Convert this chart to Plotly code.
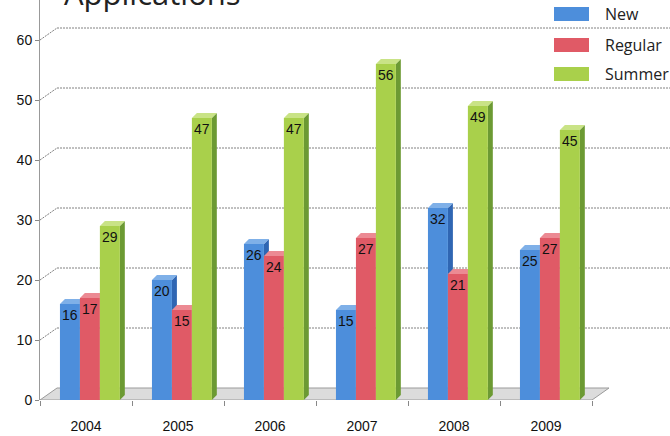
import plotly.graph_objects as go

years = ["2004", "2005", "2006", "2007", "2008", "2009"]
series_names = ["New", "Regular", "Summer"]
new_vals = [16, 20, 26, 15, 32, 25]
regular_vals = [17, 15, 24, 27, 21, 27]
summer_vals = [29, 47, 47, 56, 49, 45]
y_ticks = [0, 10, 20, 30, 40, 50, 60]

front_colors = ["#4d8edb", "#e05a66", "#a9d04b"]
side_colors = ["#2f66b3", "#b03c4a", "#6c9a33"]
top_colors = ["#7fb0e8", "#ec8a93", "#c9e386"]

bar_w = 0.217
offsets = [-0.283, -0.066, 0.151]
dx, dy = 0.054, 0.83          # bar depth in data units
wdx, wdy = 0.185, 2.0         # wall/floor depth in data units

fig = go.Figure()
all_vals = [new_vals, regular_vals, summer_vals]
for name, vals, off, col in zip(series_names, all_vals, offsets, front_colors):
    fig.add_trace(go.Bar(
        x=years, y=vals, name=name, offset=off, width=bar_w,
        marker=dict(color=col, line=dict(width=0)),
        text=[str(v) for v in vals], textposition="inside",
        insidetextanchor="end", textangle=0, constraintext="none",
        textfont=dict(family="Liberation Sans, Arial", size=14, color="#111"),
        showlegend=False,
    ))

shapes = []
# floor
shapes.append(dict(type="path", xref="x", yref="y", layer="below",
                   path=f"M -0.5,0 L 5.5,0 L {5.5+wdx},{wdy} L {-0.5+wdx},{wdy} Z",
                   fillcolor="#dcdcdc", line=dict(color="#9a9a9a", width=1)))
# back-wall gridlines
for v in y_ticks[1:]:
    shapes.append(dict(type="line", xref="x", yref="y", layer="below",
                       x0=-0.5, y0=v, x1=-0.5 + wdx, y1=v + wdy,
                       line=dict(color="#808080", width=1, dash="2px,1px")))
    shapes.append(dict(type="line", xref="x", yref="y", layer="below",
                       x0=-0.5 + wdx, y0=v + wdy, x1=7.0, y1=v + wdy,
                       line=dict(color="#808080", width=1, dash="2px,1px")))
# bar side faces then top faces
for k, vals in enumerate(all_vals):
    for i, v in enumerate(vals):
        x1 = i + offsets[k] + bar_w
        shapes.append(dict(type="path", xref="x", yref="y", layer="below",
                           path=f"M {x1},0 L {x1},{v} L {x1+dx},{v+dy} L {x1+dx},{dy} Z",
                           fillcolor=side_colors[k], line=dict(width=0)))
for k, vals in enumerate(all_vals):
    for i, v in enumerate(vals):
        x0 = i + offsets[k]
        x1 = x0 + bar_w
        shapes.append(dict(type="path", xref="x", yref="y", layer="below",
                           path=f"M {x0},{v} L {x1},{v} L {x1+dx},{v+dy} L {x0+dx},{v+dy} Z",
                           fillcolor=top_colors[k], line=dict(width=0)))

# legend (custom, larger swatches)
plot_w, plot_h = 630.0, 400.0
shapes.append(dict(type="rect", xref="paper", yref="paper", layer="below",
                   x0=(548 - 40) / plot_w, x1=1.0, y0=1 - 86 / plot_h, y1=1.0,
                   fillcolor="white", line=dict(width=0)))
annotations = []
row_centers = [14, 45, 74]
for name, col, yc in zip(series_names, front_colors, row_centers):
    shapes.append(dict(type="rect", xref="paper", yref="paper",
                       x0=(554 - 40) / plot_w, x1=(589 - 40) / plot_w,
                       y0=1 - (yc + 7) / plot_h, y1=1 - (yc - 7) / plot_h,
                       fillcolor=col, line=dict(width=0)))
    annotations.append(dict(xref="paper", yref="paper", x=(603 - 40) / plot_w,
                            y=1 - yc / plot_h, xanchor="left", yanchor="middle",
                            text=name, showarrow=False,
                            font=dict(family="Open Sans", size=16, color="#222")))

annotations.append(dict(xref="paper", yref="paper", x=(62 - 40) / plot_w,
                        y=1 - 16 / plot_h, xanchor="left", yanchor="bottom",
                        text="Applications", showarrow=False,
                        font=dict(family="Open Sans", size=31, color="#222")))

fig.update_layout(
    width=670, height=436,
    margin=dict(l=40, r=0, t=0, b=36),
    paper_bgcolor="white", plot_bgcolor="white",
    barmode="group",
    shapes=shapes, annotations=annotations,
    xaxis=dict(type="category", categoryorder="array", categoryarray=years,
               range=[-0.5, -0.5 + 630 / 92], tickson="boundaries",
               ticks="outside", ticklen=5, tickcolor="#888", showline=False,
               showgrid=False, zeroline=False, ticklabelstandoff=16,
               tickfont=dict(family="Liberation Sans, Arial", size=14, color="#111")),
    yaxis=dict(range=[0, 400 / 6], tickvals=y_ticks, ticks="outside", ticklen=4,
               tickcolor="#888", showline=True, linecolor="#999", linewidth=1,
               showgrid=False, zeroline=False,
               tickfont=dict(family="Liberation Sans, Arial", size=14, color="#111")),
)

fig.write_html("out.html", config={"displayModeBar": False},
               post_script="document.body.style.margin='0';document.body.style.padding='0';document.body.style.overflow='hidden';")
